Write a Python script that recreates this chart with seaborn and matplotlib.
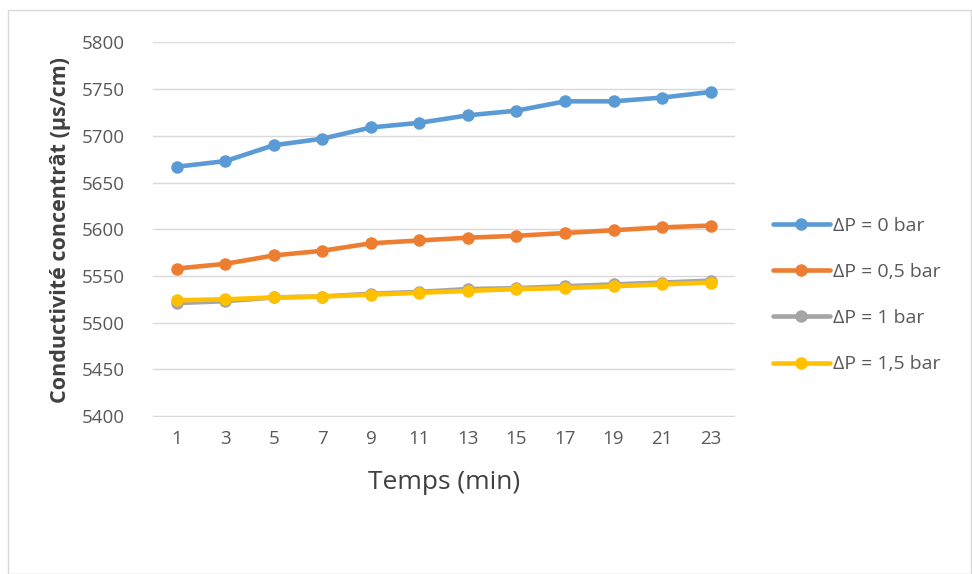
import pandas as pd
import matplotlib
matplotlib.use("Agg")
import matplotlib.pyplot as plt
import seaborn as sns
from matplotlib.patches import Rectangle

# Data
temps = [1, 3, 5, 7, 9, 11, 13, 15, 17, 19, 21, 23]
dp_0 = [5667, 5673, 5690, 5697, 5709, 5714, 5722, 5727, 5737, 5737, 5741, 5747]
dp_05 = [5558, 5563, 5572, 5577, 5585, 5588, 5591, 5593, 5596, 5599, 5602, 5604]
dp_1 = [5521, 5523, 5527, 5528, 5531, 5533, 5536, 5537, 5539, 5541, 5543, 5545]
dp_15 = [5524, 5525, 5527, 5528, 5530, 5532, 5534, 5536, 5537, 5539, 5541, 5543]

series_names = ["ΔP = 0 bar", "ΔP = 0,5 bar", "ΔP = 1 bar", "ΔP = 1,5 bar"]
colors = ["#5b9bd5", "#ed7d31", "#a5a5a5", "#ffc000"]

df = pd.DataFrame({
    "temps": temps * 4,
    "cond": dp_0 + dp_05 + dp_1 + dp_15,
    "serie": [n for n in series_names for _ in temps],
})

sns.set_style("white")
plt.rcParams["font.family"] = ["Open Sans", "DejaVu Sans"]

fig = plt.figure(figsize=(9.72, 5.74), dpi=100)
ax = fig.add_axes([0.157, 0.2735, 0.599, 0.6533])

sns.lineplot(data=df, x="temps", y="cond", hue="serie", hue_order=series_names,
             palette=colors, marker="o", markersize=9, markeredgewidth=0,
             linewidth=3.3, ax=ax, legend=True)

ax.set_xlim(0, 24)
ax.set_ylim(5399, 5800.5)
ax.set_xticks(temps)
ax.set_yticks(range(5400, 5801, 50))
ax.grid(axis="y", color="#d9d9d9", linewidth=1)
ax.set_axisbelow(True)
for s in ax.spines.values():
    s.set_visible(False)
ax.tick_params(length=0, labelsize=13.5, labelcolor="#595959", pad=9)
ax.tick_params(axis="y", pad=20)

ax.set_xlabel("Temps (min)", fontsize=19, color="#404040", labelpad=16)
ax.set_ylabel("Conductivité concentrât (µs/cm)", fontsize=15.5, fontweight="bold",
              color="#404040", labelpad=8)

handles, labels = ax.get_legend_handles_labels()
ax.legend(handles, labels, loc="center left", bbox_to_anchor=(1.066, 0.325),
          frameon=False, fontsize=14, labelcolor="#595959", handlelength=2.9,
          handletextpad=0.15, labelspacing=1.45, borderaxespad=0, borderpad=0)

fig.patches.append(Rectangle((8 / 972, 0.0), 0.999 - 8 / 972, 1 - 10 / 574,
                             transform=fig.transFigure, fill=False,
                             edgecolor="#d9d9d9", linewidth=1))

fig.savefig("out.png", dpi=100)
